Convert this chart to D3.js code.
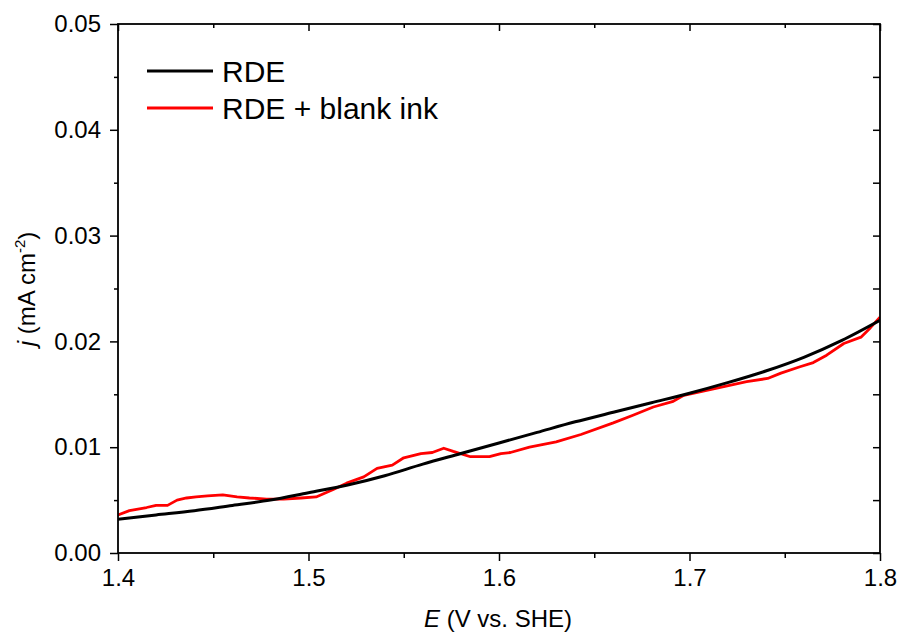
<!DOCTYPE html>
<html lang="en">
<head>
  <meta charset="UTF-8">
  <title>RDE polarization</title>
  <script src="https://d3js.org/d3.v7.min.js"></script>
  <style>
    body { margin: 0; background: #fff; }
    svg text { font-family: Arial, "Liberation Sans", sans-serif; fill: #000; }
  </style>
</head>
<body>
  <svg width="901" height="632"></svg>

  <script>
    // RDE (bare electrode), E in V vs SHE, j in mA cm-2
    const rdeE = [1.40, 1.42, 1.44, 1.46, 1.48, 1.50, 1.52, 1.54, 1.56, 1.58, 1.60,
                  1.62, 1.64, 1.66, 1.68, 1.70, 1.72, 1.74, 1.76, 1.78, 1.80];
    const rdeJ = [0.0032, 0.0036, 0.0040, 0.0045, 0.0050, 0.0057, 0.0064, 0.0073, 0.0084, 0.0094, 0.0104,
                  0.0114, 0.0124, 0.0133, 0.0142, 0.0151, 0.0161, 0.0172, 0.0185, 0.0201, 0.0220];

    // RDE + blank ink
    const inkE = [1.400, 1.406, 1.415, 1.420, 1.426, 1.431, 1.436, 1.441, 1.447, 1.455,
                  1.4625, 1.469, 1.478, 1.487, 1.496, 1.504, 1.513, 1.520, 1.529, 1.536,
                  1.544, 1.550, 1.559, 1.565, 1.571, 1.576, 1.585, 1.595, 1.601, 1.606,
                  1.616, 1.630, 1.643, 1.660, 1.670, 1.681, 1.691, 1.697, 1.712, 1.730,
                  1.741, 1.748, 1.758, 1.765, 1.772, 1.781, 1.790, 1.795, 1.800];
    const inkJ = [0.0036, 0.0040, 0.0043, 0.0045, 0.0045, 0.0050, 0.0052, 0.0053, 0.0054, 0.0055,
                  0.0053, 0.0052, 0.0051, 0.0051, 0.0052, 0.0053, 0.0060, 0.0066, 0.0072, 0.0080,
                  0.0083, 0.0090, 0.0094, 0.0095, 0.0099, 0.0096, 0.0091, 0.0091, 0.0094, 0.0095,
                  0.0100, 0.0105, 0.0112, 0.0123, 0.0130, 0.0138, 0.0143, 0.0149, 0.0155, 0.0162,
                  0.0165, 0.0170, 0.0176, 0.0180, 0.0187, 0.0198, 0.0204, 0.0213, 0.0223];

    const xTicks = [1.4, 1.5, 1.6, 1.7, 1.8];
    const xMinor = [1.45, 1.55, 1.65, 1.75];
    const yTicks = [0, 0.01, 0.02, 0.03, 0.04, 0.05];
    const yMinor = [0.005, 0.015, 0.025, 0.035, 0.045];

    const seriesNames = ["RDE", "RDE + blank ink"];
    const seriesColors = ["#000000", "#ff0000"];

    let svg = d3.select("svg");
    let margin = { top: 24, right: 21, bottom: 79, left: 118 };
    let width = +svg.attr("width");
    let height = +svg.attr("height");

    let x = d3.scaleLinear().domain([1.4, 1.8]).range([margin.left, width - margin.right]);
    let y = d3.scaleLinear().domain([0, 0.05]).range([height - margin.bottom, margin.top]);

    let line = d3.line().x(d => x(d[0])).y(d => y(d[1]));

    // data lines, clipped to plot area
    svg.append("clipPath").attr("id", "clip")
      .append("rect")
      .attr("x", x(1.4)).attr("y", y(0.05))
      .attr("width", x(1.8) - x(1.4)).attr("height", y(0) - y(0.05));

    let rdeData = rdeE.map((e, i) => [e, rdeJ[i]]);
    let inkData = inkE.map((e, i) => [e, inkJ[i]]);

    svg.append("path")
      .datum(inkData)
      .attr("clip-path", "url(#clip)")
      .attr("fill", "none")
      .attr("stroke", seriesColors[1])
      .attr("stroke-width", 2.8)
      .attr("stroke-linejoin", "round")
      .attr("d", line);

    svg.append("path")
      .datum(rdeData)
      .attr("clip-path", "url(#clip)")
      .attr("fill", "none")
      .attr("stroke", seriesColors[0])
      .attr("stroke-width", 3)
      .attr("d", line.curve(d3.curveMonotoneX));

    // axes
    let x0 = x(1.4), x1 = x(1.8), y0 = y(0), y1 = y(0.05);

    svg.append("g")
      .attr("transform", `translate(0,${y0})`)
      .call(d3.axisBottom(x).tickValues(xTicks).tickSize(8).tickPadding(7).tickFormat(d3.format(".1f")))
      .call(g => g.select(".domain").remove())
      .call(g => g.selectAll("text").attr("font-size", 24).attr("dy", "0.75em"));

    svg.append("g")
      .attr("transform", `translate(0,${y0})`)
      .call(d3.axisBottom(x).tickValues(xMinor).tickSize(5).tickFormat(""))
      .call(g => g.select(".domain").remove());

    svg.append("g")
      .attr("transform", `translate(${x0},0)`)
      .call(d3.axisLeft(y).tickValues(yTicks).tickSize(8).tickPadding(9).tickFormat(d3.format(".2f")))
      .call(g => g.select(".domain").remove())
      .call(g => g.selectAll("text").attr("font-size", 24));

    svg.append("g")
      .attr("transform", `translate(${x0},0)`)
      .call(d3.axisLeft(y).tickValues(yMinor).tickSize(4).tickFormat(""))
      .call(g => g.select(".domain").remove());

    // top and right: inward ticks, no labels
    svg.append("g")
      .attr("transform", `translate(0,${y1})`)
      .call(d3.axisBottom(x).tickValues(xTicks).tickSize(7).tickFormat(""))
      .call(g => g.select(".domain").remove());
    svg.append("g")
      .attr("transform", `translate(0,${y1})`)
      .call(d3.axisBottom(x).tickValues(xMinor).tickSize(4).tickFormat(""))
      .call(g => g.select(".domain").remove());
    svg.append("g")
      .attr("transform", `translate(${x1},0)`)
      .call(d3.axisLeft(y).tickValues(yTicks).tickSize(7).tickFormat(""))
      .call(g => g.select(".domain").remove());
    svg.append("g")
      .attr("transform", `translate(${x1},0)`)
      .call(d3.axisLeft(y).tickValues(yMinor).tickSize(7).tickFormat(""))
      .call(g => g.select(".domain").remove());

    svg.selectAll(".tick line").attr("stroke", "#000").attr("stroke-width", 1.5);

    svg.append("rect")
      .attr("x", x0).attr("y", y1)
      .attr("width", x1 - x0).attr("height", y0 - y1)
      .attr("fill", "none")
      .attr("stroke", "#000")
      .attr("stroke-width", 1.8);

    // axis titles
    let xt = svg.append("text")
      .attr("x", (x0 + x1) / 2 - 1)
      .attr("y", 627)
      .attr("text-anchor", "middle")
      .attr("font-size", 24);
    xt.append("tspan").attr("font-style", "italic").text("E");
    xt.append("tspan").text(" (V vs. SHE)");

    let yt = svg.append("text")
      .attr("transform", "translate(35,289) rotate(-90)")
      .attr("text-anchor", "middle")
      .attr("font-size", 24);
    yt.append("tspan").attr("font-style", "italic").text("j");
    yt.append("tspan").text(" (mA cm");
    yt.append("tspan").attr("font-size", 15).attr("dy", -10).text("-2");
    yt.append("tspan").attr("dy", 10).text(")");

    // legend
    let legend = svg.append("g");
    seriesNames.forEach((name, i) => {
      let ly = 71 + i * 37;
      legend.append("line")
        .attr("x1", 147).attr("x2", 213)
        .attr("y1", ly).attr("y2", ly)
        .attr("stroke", seriesColors[i])
        .attr("stroke-width", 3);
      legend.append("text")
        .attr("x", 222).attr("y", ly + 11)
        .attr("font-size", 30)
        .text(name);
    });
  </script>
</body>
</html>
